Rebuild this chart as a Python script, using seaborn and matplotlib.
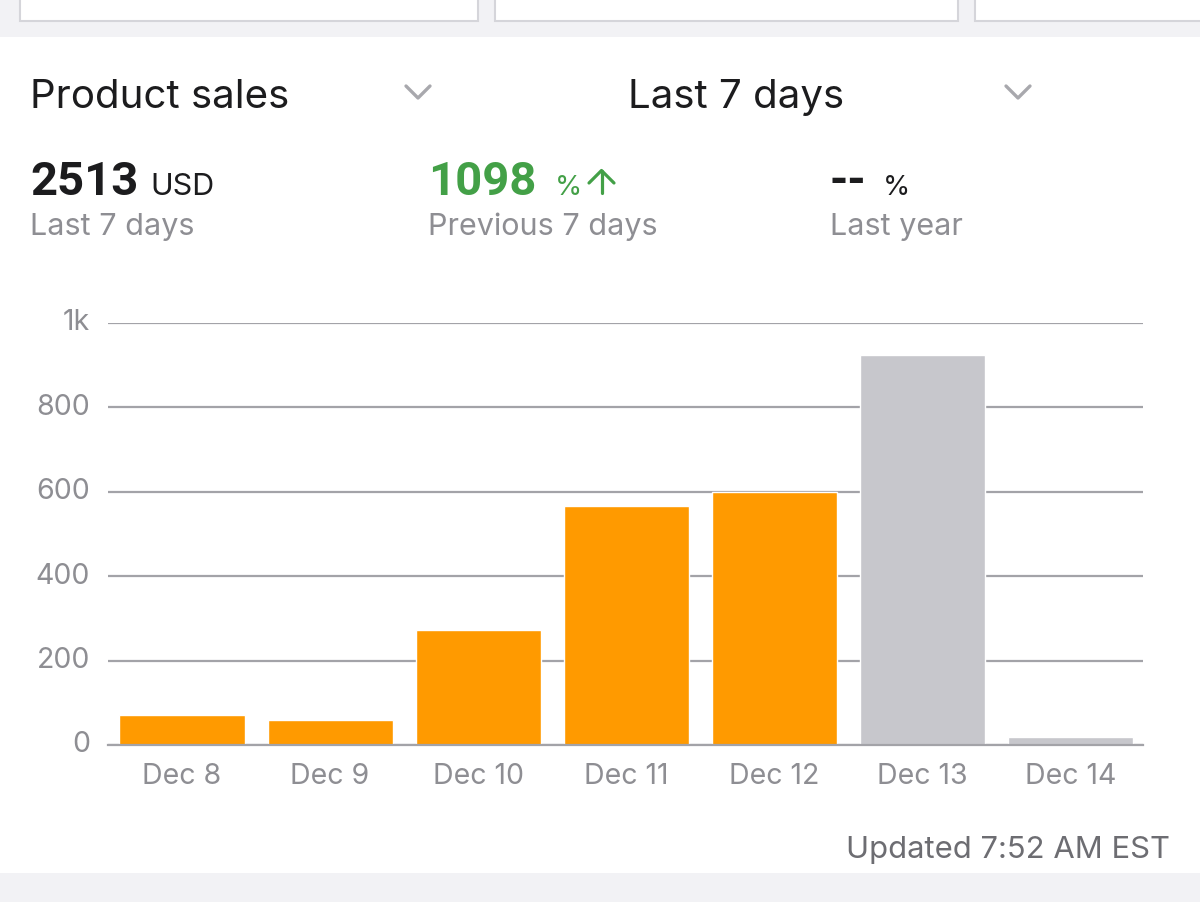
import matplotlib
matplotlib.use('Agg')
import matplotlib.pyplot as plt
from matplotlib.patches import Rectangle
from matplotlib.lines import Line2D
import seaborn as sns

# daily product sales (USD)
days = ['Dec 8', 'Dec 9', 'Dec 10', 'Dec 11', 'Dec 12', 'Dec 13', 'Dec 14']
sales = [70, 60, 272, 567, 600, 925, 19]
bar_colors = ['#FF9A00'] * 5 + ['#C7C7CC'] * 2
y_ticks = [0, 200, 400, 600, 800, 1000]
y_labels = ['0', '200', '400', '600', '800', '1k']

W, H = 1200, 902
sns.set_style('white')
plt.rcParams['font.family'] = ['Inter', 'DejaVu Sans']
NUM_FONT = ['Roboto', 'DejaVu Sans']
GREEN = '#43A047'

fig = plt.figure(figsize=(W / 100, H / 100), dpi=100)
fig.patch.set_facecolor('white')


def fx(x):
    return x / W


def fy(y):
    return 1 - y / H


def poly(xs, ys, color, lw):
    fig.lines.append(Line2D([fx(v) for v in xs], [fy(v) for v in ys],
                            transform=fig.transFigure, color=color, linewidth=lw,
                            solid_capstyle='round', solid_joinstyle='round'))


# grey app background bands and cards (top) + bottom band
fig.patches.append(Rectangle((0, fy(37)), 1, 37 / H, transform=fig.transFigure,
                             facecolor='#F2F2F5', edgecolor='none', zorder=0))
for x0, x1 in [(20, 478), (495, 958), (975, 1230)]:
    fig.patches.append(Rectangle((fx(x0), fy(21)), (x1 - x0) / W, 40 / H,
                                 transform=fig.transFigure, facecolor='white',
                                 edgecolor='#D5D5DA', linewidth=1.5, zorder=1))
fig.patches.append(Rectangle((0, 0), 1, (H - 873) / H, transform=fig.transFigure,
                             facecolor='#F2F2F5', edgecolor='none', zorder=0))

ax = fig.add_axes([fx(108), fy(745), (1143 - 108) / W, (745 - 323) / H])
sns.barplot(x=days, y=sales, hue=days, palette=bar_colors, legend=False,
            width=0.845, saturation=1, ax=ax, zorder=3)
ax.set_xlim(-0.5, 6.49)
ax.set_ylim(0, 1000)
ax.set_yticks(y_ticks)
ax.set_yticklabels(y_labels)
ax.set_xlabel('')
ax.set_ylabel('')
ax.grid(axis='y', color='#A3A3A8', linewidth=1.6, zorder=0)
ax.set_axisbelow(True)
for side in ['top', 'right', 'left']:
    ax.spines[side].set_visible(False)
ax.spines['bottom'].set_color('#A3A3A8')
ax.spines['bottom'].set_linewidth(1.6)
ax.spines['bottom'].set_zorder(4)
ax.tick_params(axis='both', length=0, labelsize=20.5, labelcolor='#8E8E93')
ax.tick_params(axis='y', pad=13)
ax.tick_params(axis='x', pad=13)
for lab in ax.get_yticklabels():
    lab.set_verticalalignment('center')

# header
fig.text(fx(30), fy(108), 'Product sales', fontsize=29, color='#1C1C1E', va='baseline')
fig.text(fx(628), fy(108), 'Last 7 days', fontsize=29, color='#1C1C1E', va='baseline')
for cx in [418, 1018]:
    poly([cx - 12, cx, cx + 12], [86, 98, 86], '#A8A8AD', 2.4)

# summary figures
fig.text(fx(30), fy(195), '2513', fontsize=34, fontweight='bold', color='#1C1C1E',
         va='baseline', family=NUM_FONT)
fig.text(fx(150), fy(195), 'USD', fontsize=22, color='#1C1C1E', va='baseline')
fig.text(fx(428), fy(195), '1098', fontsize=34, fontweight='bold', color=GREEN,
         va='baseline', family=NUM_FONT)
fig.text(fx(555), fy(195), '%', fontsize=20, color=GREEN, va='baseline')
poly([601.5, 601.5], [193, 171], GREEN, 2.3)
poly([589, 601.5, 614], [183, 170.5, 183], GREEN, 2.3)
fig.text(fx(830), fy(195), '--', fontsize=34, fontweight='bold', color='#1C1C1E',
         va='baseline', family=NUM_FONT)
fig.text(fx(883), fy(195), '%', fontsize=20, color='#1C1C1E', va='baseline')

fig.text(fx(30), fy(235), 'Last 7 days', fontsize=22, color='#8E8E93', va='baseline')
fig.text(fx(428), fy(235), 'Previous 7 days', fontsize=22, color='#8E8E93', va='baseline')
fig.text(fx(830), fy(235), 'Last year', fontsize=22, color='#8E8E93', va='baseline')

fig.text(fx(1170), fy(858), 'Updated 7:52 AM EST', fontsize=22.3, color='#6D6D72',
         va='baseline', ha='right')

plt.savefig('out.png', dpi=100)
